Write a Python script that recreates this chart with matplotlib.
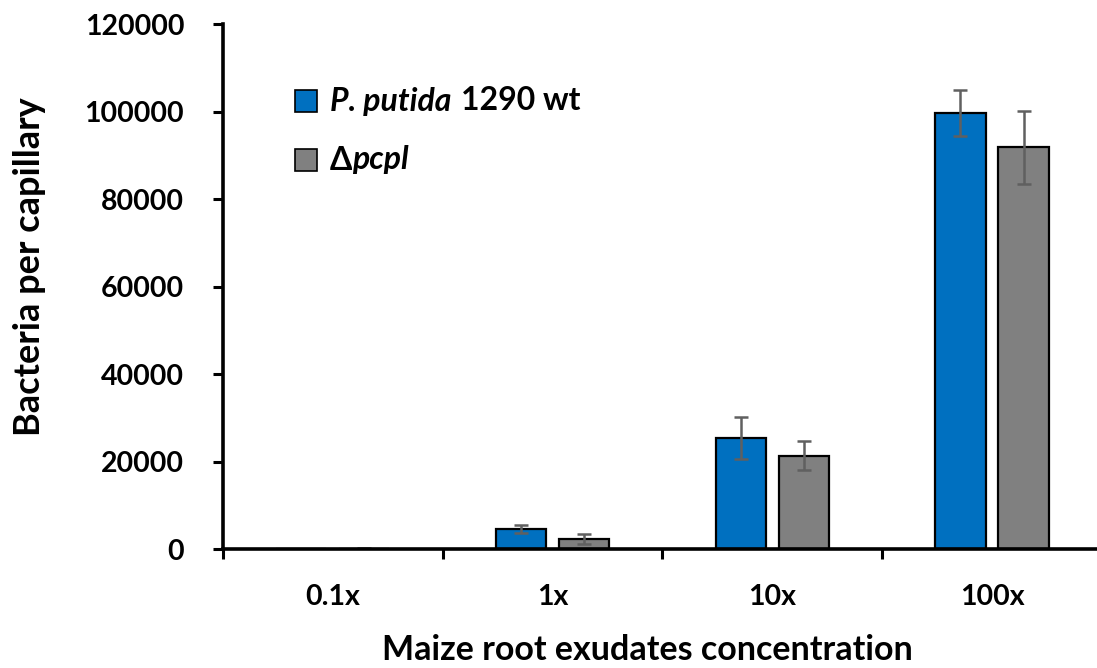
import matplotlib.pyplot as plt
import numpy as np

plt.rcParams['font.family'] = ['Lato', 'DejaVu Sans']
plt.rcParams['font.weight'] = 'bold'
plt.rcParams['axes.labelweight'] = 'bold'

concentrations = ['0.1x', '1x', '10x', '100x']
wt_mean = [60, 4600, 25400, 99700]
wt_err = [40, 1000, 4800, 5200]
mutant_mean = [100, 2300, 21300, 91800]
mutant_err = [150, 1100, 3300, 8400]

blue = '#0070C0'
grey = '#808080'

fig = plt.figure(figsize=(10.97, 6.68), dpi=100)
ax = fig.add_axes([0.2033, 0.178, 0.7967, 0.786])

x = np.arange(len(concentrations))
w = 0.228
off = 0.1435
err_kw = dict(ecolor='#606060', elinewidth=1.8, capsize=4.8, capthick=1.8)

ax.bar(x - off, wt_mean, w, yerr=wt_err, color=blue, edgecolor='black',
       linewidth=1.6, error_kw=err_kw)
ax.bar(x + off, mutant_mean, w, yerr=mutant_err, color=grey, edgecolor='black',
       linewidth=1.6, error_kw=err_kw)

ax.set_xlim(-0.5, 3.478)
ax.set_ylim(0, 120000)
ax.set_yticks(np.arange(0, 120001, 20000))
ax.tick_params(axis='y', labelsize=20.5, width=2.2, length=7, direction='out', pad=21)
for t in ax.get_yticklabels():
    t.set_fontweight('bold')

# category boundary ticks, labels sit between them
ax.set_xticks([-0.5, 0.5, 1.5, 2.5])
ax.set_xticklabels([])
ax.set_xticks(x, minor=True)
ax.set_xticklabels(concentrations, minor=True, fontweight='bold')
ax.tick_params(axis='x', which='major', width=2.2, length=7, direction='out')
ax.tick_params(axis='x', which='minor', length=0, labelsize=20.5, pad=25)

for s in ['top', 'right']:
    ax.spines[s].set_visible(False)
for s in ['left', 'bottom']:
    ax.spines[s].set_linewidth(2.6)

ax.set_xlabel('Maize root exudates concentration', fontsize=24.5)
ax.set_ylabel('Bacteria per capillary', fontsize=26)
ax.xaxis.label.set_va('center')
ax.yaxis.label.set_va('center')
ax.xaxis.set_label_coords(0.486, -0.192)
ax.yaxis.set_label_coords(-0.2213, 0.538)

# legend entries drawn by hand
fig.patches.append(plt.Rectangle((295 / 1097, 1 - 112 / 668), 22 / 1097, 22 / 668,
                                 transform=fig.transFigure, facecolor=blue,
                                 edgecolor='black', linewidth=1.2))
fig.patches.append(plt.Rectangle((295 / 1097, 1 - 171 / 668), 22 / 1097, 22 / 668,
                                 transform=fig.transFigure, facecolor=grey,
                                 edgecolor='black', linewidth=1.2))

renderer = fig.canvas.get_renderer()
t1 = fig.text(330 / 1097, 1 - 101 / 668, 'P. putida', fontsize=23,
              fontstyle='italic', fontweight='bold', va='center')
bb = t1.get_window_extent(renderer)
fig.text(bb.x1 / 1097 + 0.009, 1 - 101 / 668, '1290 wt', fontsize=23,
         fontweight='bold', va='center')
t2 = fig.text(330 / 1097, 1 - 160 / 668, 'Δ', fontsize=23,
              fontweight='bold', va='center')
bb = t2.get_window_extent(renderer)
fig.text(bb.x1 / 1097, 1 - 160 / 668, 'pcpl', fontsize=23,
         fontstyle='italic', fontweight='bold', va='center')

fig.savefig('out.png', dpi=100)
